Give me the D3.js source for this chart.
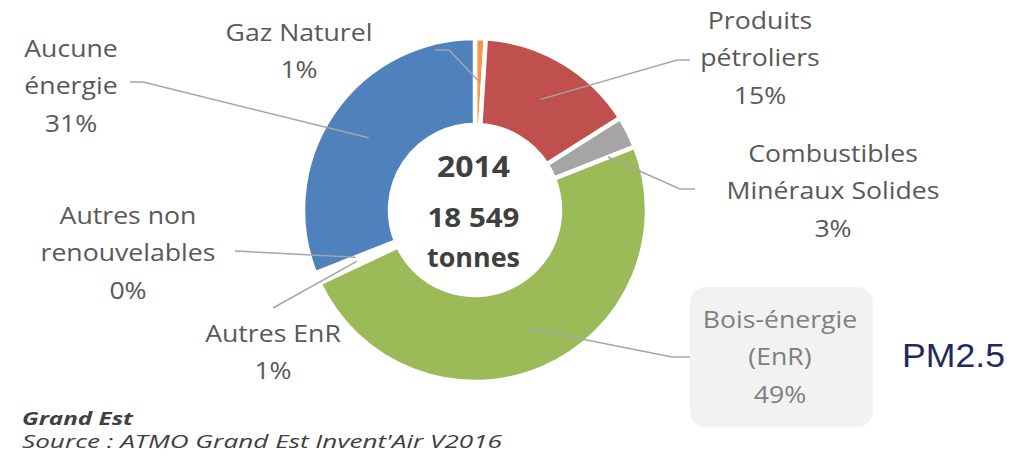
<!DOCTYPE html>
<html>
<head>
<meta charset="utf-8">
<script src="https://cdn.jsdelivr.net/npm/d3@7"></script>
<style>
  html, body { margin: 0; padding: 0; background: #fff; }
  svg { display: block; }
</style>
</head>
<body>
<svg id="chart" width="1031" height="462"></svg>
<script>
// ---- data ----
const categories = ["Gaz Naturel", "Produits pétroliers", "Combustibles Minéraux Solides", "Bois-énergie (EnR)", "Autres EnR", "Autres non renouvelables", "Aucune énergie"];
const shares = [1, 15, 3, 49, 1, 0, 31];
const percentLabels = ["1%", "15%", "3%", "49%", "1%", "0%", "31%"];
const labelLines = [["Gaz Naturel"], ["Produits", "pétroliers"], ["Combustibles", "Minéraux Solides"], ["Bois-énergie", "(EnR)"], ["Autres EnR"], ["Autres non", "renouvelables"], ["Aucune", "énergie"]];
const colors = ["#F79646", "#C0504D", "#A5A5A5", "#9BBB59", "#FFFFFF", "#FFFFFF", "#4F81BD"];
const centerLines = ["2014", "18 549", "tonnes"];
const pollutant = "PM2.5";
const footer = ["Grand Est", "Source : ATMO Grand Est Invent'Air V2016"];

// ---- layout (positions only) ----
const cx = 475, cy = 210, rOuter = 172, rInner = 85;
const labelLayout = [
  { x: 299, y: 41, path: [[435, 50], [449, 50]] },
  { x: 760, y: 29, path: [[690, 60], [677, 60]] },
  { x: 833, y: 162, path: [[695, 189], [680, 189]], end: [608, 157] },
  { x: 780, y: 328, path: [[690, 357], [672, 357]], box: [690, 287, 183, 140] },
  { x: 273, y: 342, path: [[273, 308]] },
  { x: 128, y: 224, path: [[235, 251]] },
  { x: 71, y: 57, path: [[130, 82], [143, 82]] }
];
const lineGap = 37.3;
const labelStretch = 1.11;

const svg = d3.select("#chart");
const font = "'Open Sans', sans-serif";

const pie = d3.pie().value(d => d).sort(null).startAngle(0).endAngle(2 * Math.PI);
const arcs = pie(shares);
const arc = d3.arc().innerRadius(rInner).outerRadius(rOuter);

const g = svg.append("g").attr("transform", `translate(${cx},${cy})`);
g.selectAll("path.slice")
  .data(arcs)
  .join("path")
  .attr("class", "slice")
  .attr("d", arc)
  .attr("fill", (d, i) => colors[i])
  .attr("stroke", "#fff")
  .attr("stroke-width", 4.5)
  .attr("stroke-linejoin", "miter");

// label boxes
labelLayout.forEach(L => {
  if (L.box) {
    svg.append("rect")
      .attr("x", L.box[0]).attr("y", L.box[1])
      .attr("width", L.box[2]).attr("height", L.box[3])
      .attr("rx", 16).attr("ry", 16)
      .attr("fill", "#F2F2F2");
  }
});

// leader lines
const line = d3.line();
arcs.forEach((a, i) => {
  const L = labelLayout[i];
  const c = arc.centroid(a);
  const end = L.end ? L.end : [cx + c[0], cy + c[1]];
  svg.append("path")
    .attr("d", line(L.path.concat([end])))
    .attr("fill", "none")
    .attr("stroke", "#A6A6A6")
    .attr("stroke-width", 1.5);
});

// labels
arcs.forEach((a, i) => {
  const L = labelLayout[i];
  const lines = labelLines[i].concat([percentLabels[i]]);
  const t = svg.append("g")
    .attr("transform", `translate(${L.x},${L.y}) scale(${labelStretch},1)`)
    .append("text")
    .attr("text-anchor", "middle")
    .attr("font-family", font)
    .attr("font-size", 24)
    .attr("fill", L.box ? "#7F7F7F" : "#595959");
  lines.forEach((s, k) => {
    t.append("tspan").attr("x", 0).attr("y", k * lineGap).text(s);
  });
});

// center text
const centerY = [177, 227, 267];
const centerW = [73, 92, 93];
const centerSize = [28, 27, 27];
centerLines.forEach((s, k) => {
  svg.append("text")
    .attr("x", cx - 1.5 - centerW[k] / 2).attr("y", centerY[k])
    .attr("font-family", font)
    .attr("font-weight", "bold")
    .attr("font-size", centerSize[k])
    .attr("textLength", centerW[k])
    .attr("lengthAdjust", "spacingAndGlyphs")
    .attr("fill", "#404040")
    .text(s);
});

// pollutant
svg.append("text")
  .attr("x", 902).attr("y", 367)
  .attr("font-family", "'Liberation Sans', Arial, sans-serif")
  .attr("font-size", 34)
  .attr("textLength", 103)
  .attr("lengthAdjust", "spacingAndGlyphs")
  .attr("fill", "#1F2A5C")
  .text(pollutant);

// footer
svg.append("text")
  .attr("x", 22).attr("y", 425)
  .attr("font-family", font)
  .attr("font-style", "italic")
  .attr("font-weight", "bold")
  .attr("font-size", 18)
  .attr("textLength", 111)
  .attr("lengthAdjust", "spacingAndGlyphs")
  .attr("fill", "#404040")
  .text(footer[0]);
svg.append("text")
  .attr("x", 22).attr("y", 448)
  .attr("font-family", font)
  .attr("font-style", "italic")
  .attr("font-size", 18)
  .attr("textLength", 480)
  .attr("lengthAdjust", "spacingAndGlyphs")
  .attr("fill", "#404040")
  .text(footer[1]);
</script>
</body>
</html>
